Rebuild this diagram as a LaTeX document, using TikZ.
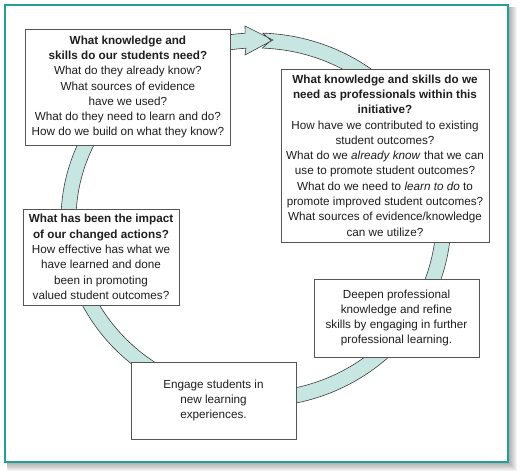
\documentclass[tikz,border=0pt]{standalone}
\usepackage{fontspec}
\setmainfont{Liberation Sans}
\usetikzlibrary{calc}
\definecolor{frameteal}{RGB}{34,160,152}
\definecolor{ringfill}{RGB}{200,230,225}
\definecolor{ringline}{RGB}{60,60,60}
\definecolor{boxline}{RGB}{85,85,85}
\definecolor{textgray}{RGB}{30,30,30}
\begin{document}
\begin{tikzpicture}[x=1pt,y=1pt,
  qbox/.style={draw=boxline, line width=0.9pt, fill=white, inner sep=0pt,
    align=center, font=\fontsize{11.7}{15.3}\selectfont, text=textgray},
  ring/.style={fill=ringfill, draw=ringline, line width=0.6pt, line join=miter}]
\useasboundingbox (0,0) rectangle (525,476);
% drop shadow of the frame
\foreach \o in {1,...,9}
  \fill[black, opacity=0.045] (7,14-\o) rectangle (508+\o,469);
% frame
\draw[frameteal, line width=2.5pt, fill=white] (5,14) rectangle (508,471);
% cycle ring with arrow head at the top
\coordinate (c) at (256,256);
\filldraw[ring]
  ([shift={(c)}]88:195 and 187)
  arc[start angle=88, end angle=-266.8, x radius=195, y radius=187]
  -- (245,450) -- (273,436) -- (245,421)
  -- ([shift={(c)}]93.2:180 and 172)
  arc[start angle=93.2, end angle=448, x radius=180, y radius=172]
  -- (271,435.5) -- cycle;
% boxes
\node[qbox, minimum width=204.3pt, minimum height=116pt] (need) at (127.9,389)
  {\textbf{What knowledge and}\\\textbf{skills do our students need?}\\What do they already know?\\What sources of evidence\\have we used?\\What do they need to learn and do?\\How do we build on what they know?};
\node[qbox, minimum width=208pt, minimum height=173pt] (prof) at (385,320.5)
  {\textbf{What knowledge and skills do we}\\\textbf{need as professionals within this}\\\textbf{initiative?}\\How have we contributed to existing\\student outcomes?\\What do we \textit{already know} that we can\\use to promote student outcomes?\\What do we need to \textit{learn to do} to\\promote improved student outcomes?\\What sources of evidence/knowledge\\can we utilize?};
\node[qbox, minimum width=156pt, minimum height=96pt] (impact) at (101,219)
  {\textbf{What has been the impact}\\\textbf{of our changed actions?}\\How effective has what we\\have learned and done\\been in promoting\\valued student outcomes?};
\node[qbox, minimum width=165pt, minimum height=78pt] (deepen) at (396.5,158)
  {Deepen professional\\knowledge and refine\\skills by engaging in further\\professional learning.};
\node[qbox, minimum width=165pt, minimum height=77pt] (engage) at (213.5,75.5)
  {Engage students in\\new learning\\experiences.};
\end{tikzpicture}
\end{document}
